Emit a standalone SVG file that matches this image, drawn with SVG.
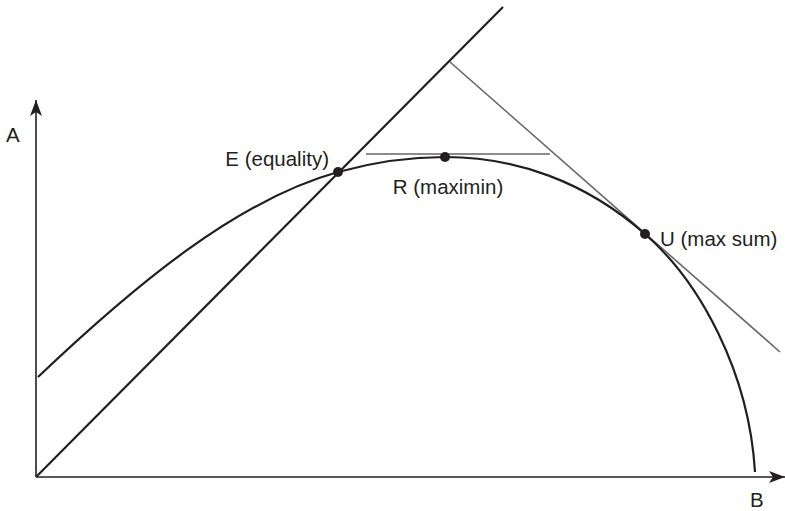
<svg xmlns="http://www.w3.org/2000/svg" width="785" height="511" viewBox="0 0 785 511">
<style>
.axis{stroke:#231f20;stroke-width:1.6;fill:none}
.blk{stroke:#231f20;stroke-width:2.2;fill:none}
.gry{stroke:#666;stroke-width:1.6;fill:none}
.lbl{font-family:"Liberation Sans",Arial,sans-serif;font-size:20.5px;fill:#231f20}
.dot{fill:#231f20}
</style>
<defs>
<marker id="ah" viewBox="0 0 16 12" refX="16" refY="6" markerWidth="16" markerHeight="12" markerUnits="userSpaceOnUse" orient="auto">
<path d="M0,0 L16,6 L0,12 L4,6 Z" fill="#231f20"/>
</marker>
</defs>
<g id="connectors">
<line class="axis" x1="36" y1="477" x2="36" y2="100" marker-end="url(#ah)"/>
<line class="axis" x1="36" y1="477" x2="785" y2="477" marker-end="url(#ah)"/>
<line class="blk" x1="36" y1="477" x2="503" y2="7"/>
<line class="gry" x1="450" y1="62" x2="780" y2="352"/>
<line class="gry" x1="366" y1="154" x2="550" y2="154"/>
<path class="blk" d="M38,377 C138,282 238,200 338,172 C374,162 409,157 445,157 C515,157 585,181 645,234 C700,282 749,372 755,472"/>
</g>
<g id="E"><circle class="dot" cx="338" cy="172" r="5"/><text class="lbl" x="329" y="166" text-anchor="end">E (equality)</text></g>
<g id="R"><circle class="dot" cx="445" cy="157" r="5"/><text class="lbl" x="448" y="194" text-anchor="middle">R (maximin)</text></g>
<g id="U"><circle class="dot" cx="645" cy="234" r="5"/><text class="lbl" x="660" y="246">U (max sum)</text></g>
<g id="A"><text class="lbl" x="6" y="142">A</text></g>
<g id="B"><text class="lbl" x="750" y="507">B</text></g>
</svg>
